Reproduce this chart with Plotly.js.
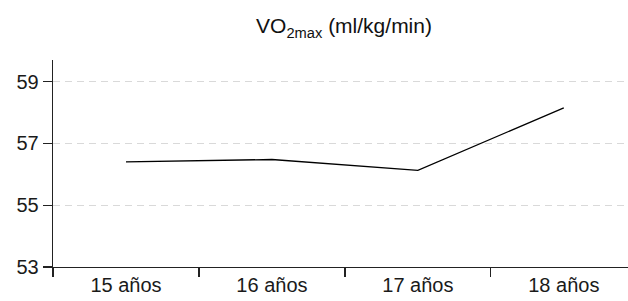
<!DOCTYPE html>
<html><head><meta charset="utf-8">
<script src="https://cdn.plot.ly/plotly-3.0.1.min.js"></script>
<style>html,body{margin:0;padding:0;background:#fff}#c{width:628px;height:301px}</style>
</head><body><div id="c"></div>
<script>
const categories = ["15 años", "16 años", "17 años", "18 años"];
const vo2max = [56.40, 56.48, 56.13, 58.15];
const yTicks = [53, 55, 57, 59];

const trace = {
  x: categories, y: vo2max, type: "scatter", mode: "lines",
  line: {color: "#000", width: 1.3}, hoverinfo: "skip"
};
const layout = {
  width: 628, height: 301,
  margin: {l: 53, r: 0, t: 60, b: 34},
  paper_bgcolor: "#fff", plot_bgcolor: "#fff",
  font: {family: "Liberation Sans, Arial, sans-serif", color: "#1a1a1a", size: 20},
  title: {text: "VO<sub>2max</sub> (ml/kg/min)", font: {size: 21, color: "#111"},
          x: 344/628, xanchor: "center", xref: "container", y: 26/301, yref: "container", yanchor: "middle"},
  showlegend: false,
  xaxis: {
    type: "category", range: [-0.5, 3.44], tickson: "boundaries",
    ticks: "outside", ticklen: 9, tickcolor: "#222", tickwidth: 1.3,
    showline: true, linecolor: "#222", linewidth: 1.3,
    showgrid: false, zeroline: false, fixedrange: true,
    tickfont: {size: 20, color: "#1a1a1a"}
  },
  yaxis: {
    range: [53, 59.7], tickvals: yTicks, ticktext: yTicks.map(String),
    ticks: "outside", ticklen: 9, tickcolor: "#222", tickwidth: 1.3,
    showline: true, linecolor: "#222", linewidth: 1.3,
    showgrid: true, gridcolor: "#d9d9d9", griddash: "7px,5px", gridwidth: 1.2,
    zeroline: false, fixedrange: true,
    tickfont: {size: 20, color: "#1a1a1a"}
  }
};
layout.title.y = 1 - 26/301;
Plotly.newPlot("c", [trace], layout, {displayModeBar: false, staticPlot: true});
</script></body></html>
